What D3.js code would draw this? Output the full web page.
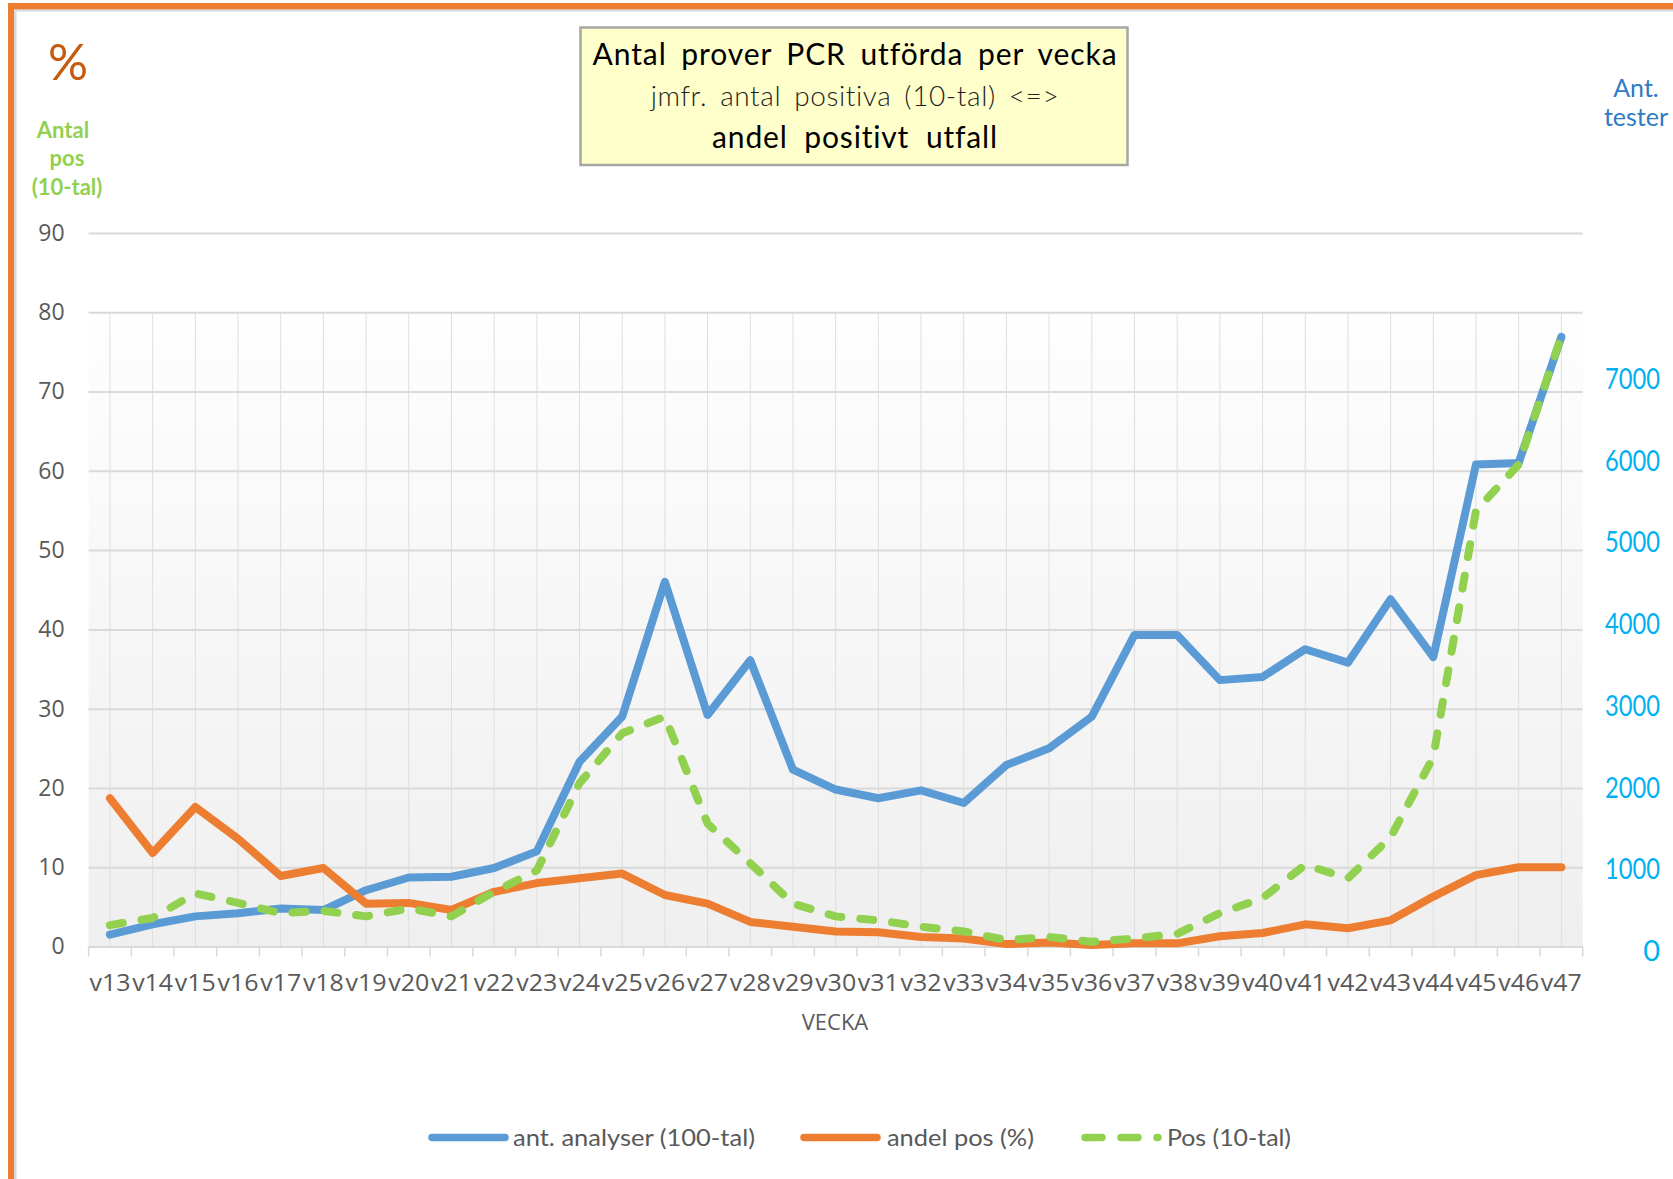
<!DOCTYPE html>
<html>
<head>
<meta charset="utf-8">
<script src="https://cdn.jsdelivr.net/npm/d3@7"></script>
<style>
	body { margin: 0; background: #fff; }
	svg { display: block; }
	text { font-variant-ligatures: none; font-feature-settings: "liga" 0, "clig" 0; }
</style>
</head>
<body>
<div id="chartDiv"></div>
<script>
;(function() {

	const COLORS = {
		BLUE: '#5B9BD5',
		ORANGE: '#ED7D31',
		GREEN: '#92D050',
		GRID: '#D9D9D9',
		TEXT: '#595959',
		RIGHT: '#00B0F0',
	};

	// data
	var weeks = ["v13", "v14", "v15", "v16", "v17", "v18", "v19", "v20", "v21", "v22", "v23", "v24",
		"v25", "v26", "v27", "v28", "v29", "v30", "v31", "v32", "v33", "v34", "v35", "v36",
		"v37", "v38", "v39", "v40", "v41", "v42", "v43", "v44", "v45", "v46", "v47"];
	var analyser = [1.5, 2.8, 3.8, 4.2, 4.8, 4.6, 7.1, 8.7, 8.8, 9.9, 12.0, 23.3,
		29.0, 46.0, 29.2, 36.1, 22.3, 19.8, 18.7, 19.7, 18.1, 22.9, 25.0, 29.0,
		39.3, 39.3, 33.6, 34.0, 37.5, 35.8, 43.8, 36.5, 60.8, 61.0, 76.9];
	var andelPos = [18.7, 11.8, 17.6, 13.6, 8.9, 9.9, 5.4, 5.5, 4.6, 6.9, 8.0, 8.6,
		9.2, 6.5, 5.4, 3.1, 2.5, 1.9, 1.8, 1.2, 1.0, 0.3, 0.5, 0.2,
		0.4, 0.4, 1.3, 1.7, 2.8, 2.3, 3.3, 6.3, 9.0, 10.0, 10.0];
	var pos10 = [2.7, 3.6, 6.7, 5.5, 4.2, 4.5, 3.8, 4.8, 3.8, 6.9, 9.6, 20.6,
		26.9, 29.0, 15.5, 10.5, 5.4, 3.8, 3.3, 2.5, 1.9, 0.8, 1.2, 0.6,
		1.0, 1.6, 4.2, 6.1, 10.3, 8.6, 13.8, 23.9, 55.0, 60.8, 77.0];
	var leftTicks = [0, 10, 20, 30, 40, 50, 60, 70, 80, 90];
	var rightTicks = [0, 1000, 2000, 3000, 4000, 5000, 6000, 7000];
	var titleLines = ["Antal prover PCR utförda per vecka", "jmfr. antal positiva (10-tal) <=>", "andel positivt utfall"];
	var seriesNames = ["ant. analyser (100-tal)", "andel pos (%)", "Pos (10-tal)"];

	var width = 1673;
	var height = 1179;
	var plot = { left: 88.6, right: 1582.7, top: 233, bottom: 946.5 };
	var lineWidth = 8;
	var dash = "13 19";

	var chart;

	init();

	function init() {
		initializeChart();
		drawFrame();
		createAxes();
		drawLines();
		drawTitle();
		drawLegend();
	}//end init

	function initializeChart() {
		chart = d3.select("#chartDiv").append("svg")
			.attr("width", width)
			.attr("height", height)
			.style("font-family", "'Open Sans', sans-serif");

		var grad = chart.append("defs").append("linearGradient")
			.attr("id", "plotBg")
			.attr("x1", 0).attr("y1", 0).attr("x2", 0).attr("y2", 1);
		grad.append("stop").attr("offset", "0%").attr("stop-color", "#FEFEFE");
		grad.append("stop").attr("offset", "100%").attr("stop-color", "#EFEFEF");
	}

	function drawFrame() {
		// orange border top + left with faint shadow
		chart.append("rect").attr("x", 8).attr("y", 9).attr("width", width).attr("height", 2.5).attr("fill", "#DADADA");
		chart.append("rect").attr("x", 14).attr("y", 9).attr("width", 2.5).attr("height", height).attr("fill", "#DADADA");
		chart.append("rect").attr("x", 8).attr("y", 3).attr("width", width).attr("height", 6.3).attr("fill", COLORS.ORANGE);
		chart.append("rect").attr("x", 8).attr("y", 3).attr("width", 6).attr("height", height).attr("fill", COLORS.ORANGE);
	}

	// spread a line to the wanted width: half of the extra between letters, half in word gaps
	function fitLine(sel, target) {
		sel.each(function(d, i) {
			var t = d3.select(this);
			var want = target(d, i);
			var natural = this.getComputedTextLength();
			var txt = t.text();
			var gaps = (txt.match(/ /g) || []).length;
			var extra = want - natural;
			if (extra <= 0) return;
			t.attr("letter-spacing", (extra * 0.5) / (txt.length - 1));
			if (gaps > 0) t.attr("word-spacing", (extra * 0.5) / gaps);
		});
	}

	function createAxes() {
		chart.xScale = d3.scaleBand()
			.domain(weeks)
			.range([plot.left, plot.right])
			.padding(0);

		chart.yScale = d3.scaleLinear()
			.domain([0, 90])
			.range([plot.bottom, plot.top]);

		chart.yRight = d3.scaleLinear()
			.domain([0, 7000])
			.range([951, 378.8]);

		var bw = chart.xScale.bandwidth();

		// plot area background from 80 down
		chart.append("rect")
			.attr("x", plot.left)
			.attr("y", chart.yScale(80))
			.attr("width", plot.right - plot.left)
			.attr("height", chart.yScale(0) - chart.yScale(80))
			.attr("fill", "url(#plotBg)");

		// vertical gridlines through the points
		chart.append("g").selectAll("line")
			.data(weeks)
			.enter().append("line")
				.attr("x1", d => chart.xScale(d) + bw / 2)
				.attr("x2", d => chart.xScale(d) + bw / 2)
				.attr("y1", chart.yScale(80))
				.attr("y2", chart.yScale(0))
				.attr("stroke", "#DEDEDE")
				.attr("stroke-width", 1);

		// horizontal gridlines + left labels
		chart.yAxis = d3.axisLeft(chart.yScale)
			.tickValues(leftTicks)
			.tickSize(-(plot.right - plot.left))
			.tickPadding(24);

		chart.yAxisContainer = chart.append("g")
			.attr("class", "y axis")
			.attr("transform", "translate(" + plot.left + ",0)")
			.call(chart.yAxis);
		chart.yAxisContainer.select(".domain").remove();
		chart.yAxisContainer.selectAll(".tick line")
			.attr("stroke", COLORS.GRID)
			.attr("stroke-width", 2);
		chart.yAxisContainer.selectAll(".tick text")
			.attr("fill", COLORS.TEXT)
			.style("font-size", "23px")
			.style("font-family", "'Open Sans', sans-serif");

		// x axis with tick marks on category boundaries
		chart.xAxis = d3.axisBottom(chart.xScale)
			.tickSize(0)
			.tickPadding(28);

		chart.xAxisContainer = chart.append("g")
			.attr("class", "x axis")
			.attr("transform", "translate(0," + plot.bottom + ")")
			.call(chart.xAxis);
		chart.xAxisContainer.select(".domain").remove();
		chart.xAxisContainer.selectAll(".tick text")
			.attr("fill", COLORS.TEXT)
			.attr("textLength", 41)
			.attr("lengthAdjust", "spacingAndGlyphs")
			.style("font-size", "23px")
			.style("font-family", "'Open Sans', sans-serif");

		var bounds = weeks.map(d => chart.xScale(d)).concat([plot.right]);
		chart.append("g").selectAll("line")
			.data(bounds)
			.enter().append("line")
				.attr("x1", d => d)
				.attr("x2", d => d)
				.attr("y1", plot.bottom)
				.attr("y2", plot.bottom + 10)
				.attr("stroke", COLORS.GRID)
				.attr("stroke-width", 1.5);

		// x axis title
		chart.append("text")
			.attr("x", 835)
			.attr("y", 1030)
			.attr("text-anchor", "middle")
			.attr("fill", COLORS.TEXT)
			.style("font-size", "22px")
			.text("VECKA");

		// right axis labels
		chart.append("g").selectAll("text")
			.data(rightTicks)
			.enter().append("text")
				.attr("x", 1660)
				.attr("y", d => chart.yRight(d))
				.attr("dy", "0.35em")
				.attr("text-anchor", "end")
				.attr("textLength", d => d > 0 ? 55 : null)
				.attr("lengthAdjust", "spacingAndGlyphs")
				.attr("fill", COLORS.RIGHT)
				.style("font-size", "29px")
				.style("font-family", "'Lato', sans-serif")
				.text(d => d);

		// left header labels
		chart.append("text")
			.attr("x", 68).attr("y", 80)
			.attr("text-anchor", "middle")
			.attr("fill", "#C55A11")
			.style("font-family", "'Lato', sans-serif")
			.style("font-size", "50px")
			.text("%");

		var posLabels = [["Antal", 63, 138], ["pos", 67, 166], ["(10-tal)", 67, 195]];
		chart.append("g").selectAll("text")
			.data(posLabels)
			.enter().append("text")
				.attr("x", d => d[1])
				.attr("y", d => d[2])
				.attr("text-anchor", "middle")
				.attr("fill", COLORS.GREEN)
				.style("font-family", "'Lato', sans-serif")
				.style("font-weight", "bold")
				.style("font-size", "22px")
				.text(d => d[0]);

		var testLabels = [["Ant.", 97], ["tester", 126]];
		chart.append("g").selectAll("text")
			.data(testLabels)
			.enter().append("text")
				.attr("x", 1636)
				.attr("y", d => d[1])
				.attr("text-anchor", "middle")
				.attr("fill", "#2E7BC6")
				.style("font-family", "'Lato', sans-serif")
				.style("font-size", "25px")
				.text(d => d[0]);
	}

	function drawLines() {
		var bw = chart.xScale.bandwidth();
		var line = d3.line()
			.x((d, i) => chart.xScale(weeks[i]) + bw / 2)
			.y(d => chart.yScale(d));

		var series = [
			{ values: analyser, color: COLORS.BLUE, dash: null },
			{ values: andelPos, color: COLORS.ORANGE, dash: null },
			{ values: pos10, color: COLORS.GREEN, dash: dash },
		];

		chart.append("g").selectAll("path")
			.data(series)
			.enter().append("path")
				.attr("d", d => line(d.values))
				.attr("fill", "none")
				.attr("stroke", d => d.color)
				.attr("stroke-width", lineWidth)
				.attr("stroke-linejoin", "round")
				.attr("stroke-linecap", "round")
				.attr("stroke-dasharray", d => d.dash);
	}

	function drawTitle() {
		chart.append("rect")
			.attr("x", 580.5)
			.attr("y", 27.5)
			.attr("width", 547)
			.attr("height", 137.5)
			.attr("fill", "#FFFFCC")
			.attr("stroke", "#A6A6A6")
			.attr("stroke-width", 2.5);

		var specs = [
			{ y: 65, len: 524, color: "#000", weight: 400, size: 30 },
			{ y: 106, len: 408, color: "#1E1E1E", weight: 300, size: 28 },
			{ y: 148, len: 285, color: "#000", weight: 400, size: 30 },
		];
		var lines = chart.append("g").selectAll("text")
			.data(titleLines)
			.enter().append("text")
				.attr("x", 855)
				.attr("y", (d, i) => specs[i].y)
				.attr("text-anchor", "middle")
				.attr("fill", (d, i) => specs[i].color)
				.style("font-family", "'Lato', sans-serif")
				.style("font-weight", (d, i) => specs[i].weight)
				.style("font-size", (d, i) => specs[i].size + "px")
				.text(d => d);
		fitLine(lines, (d, i) => specs[i].len);
	}

	function drawLegend() {
		var items = [
			{ name: seriesNames[0], color: COLORS.BLUE, x: 432, tx: 513, tlen: 242, dash: null },
			{ name: seriesNames[1], color: COLORS.ORANGE, x: 804, tx: 887, tlen: 147, dash: null },
			{ name: seriesNames[2], color: COLORS.GREEN, x: 1085, tx: 1167, tlen: 124, dash: "17 19" },
		];
		var g = chart.append("g").attr("class", "legend");
		g.selectAll("line")
			.data(items)
			.enter().append("line")
				.attr("x1", d => d.x)
				.attr("x2", d => d.x + 73)
				.attr("y1", 1137.5)
				.attr("y2", 1137.5)
				.attr("stroke", d => d.color)
				.attr("stroke-width", 7.5)
				.attr("stroke-linecap", "round")
				.attr("stroke-dasharray", d => d.dash);
		g.selectAll("text")
			.data(items)
			.enter().append("text")
				.attr("x", d => d.tx)
				.attr("y", 1146)
				.attr("textLength", d => d.tlen)
				.attr("lengthAdjust", "spacingAndGlyphs")
				.attr("fill", COLORS.TEXT)
				.style("font-family", "'Lato', sans-serif")
				.style("font-size", "23px")
				.text(d => d.name);
	}
})();
</script>
</body>
</html>
